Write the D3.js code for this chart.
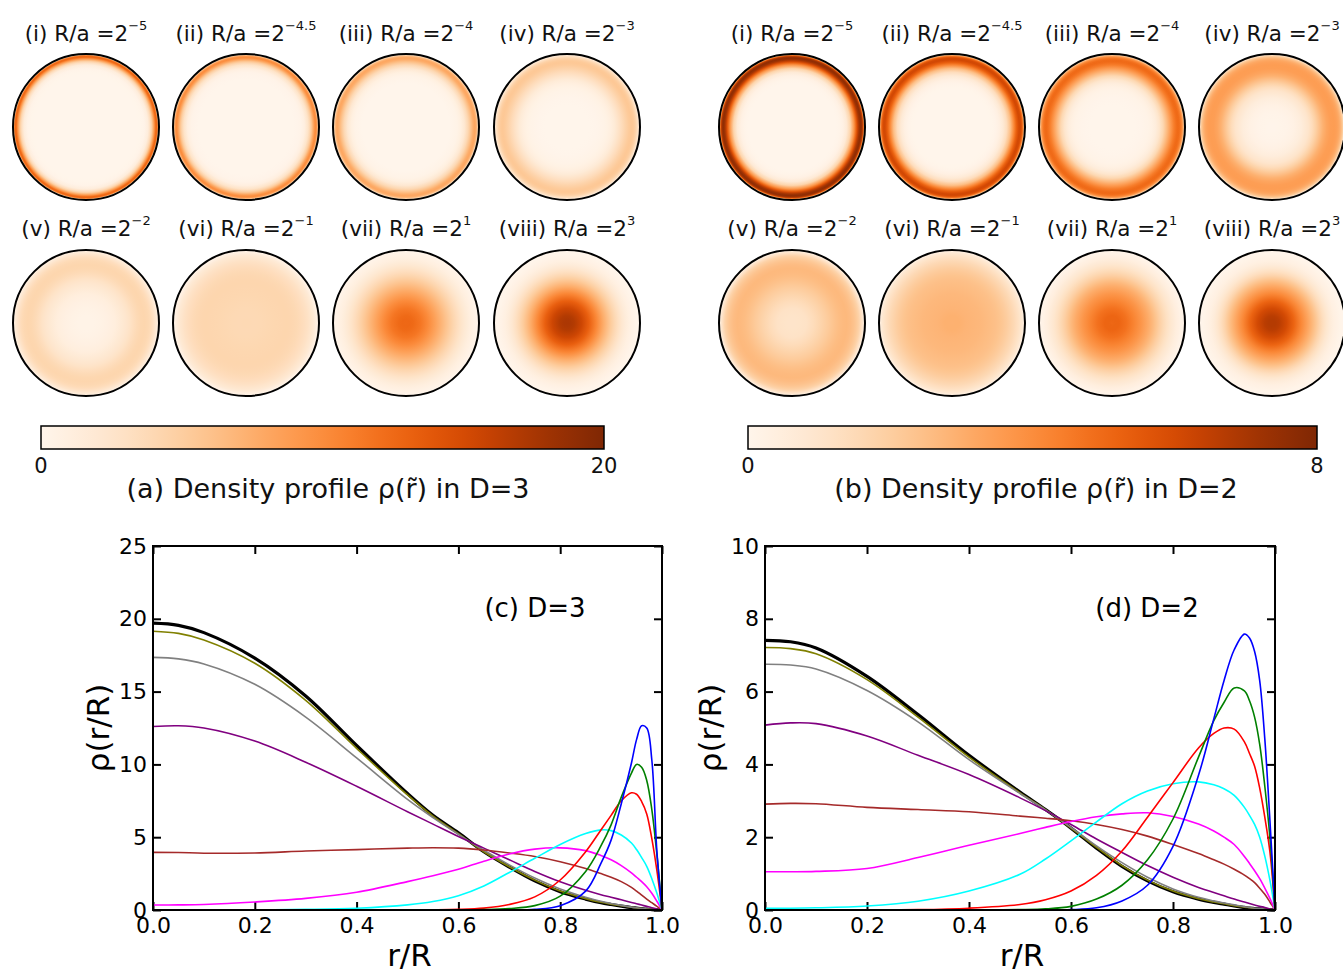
<!DOCTYPE html>
<html><head><meta charset="utf-8">
<script src="https://cdn.jsdelivr.net/npm/d3@7"></script>
<style>body{margin:0;background:#fff}svg{display:block}</style>
</head><body>
<svg id="chart" width="1343" height="972"></svg>
<script>
// ---------- DATA ----------
const rGrid = [0, 0.05, 0.1, 0.2, 0.3, 0.4, 0.5, 0.55, 0.6, 0.65, 0.7, 0.75, 0.8, 0.85, 0.88, 0.9, 0.92, 0.94, 0.95, 0.96, 0.97, 0.98, 0.99, 1.0];

const seriesNames  = ["black", "olive", "gray", "purple", "brown", "magenta", "cyan", "red", "green", "blue"];

// D = 3
const blackD3   = [19.7, 19.55, 19.05, 17.3, 14.7, 11.3, 8.0, 6.5, 5.3, 4.0, 2.95, 2.0, 1.26, 0.75, 0.5, 0.38, 0.27, 0.17, 0.13, 0.09, 0.06, 0.03, 0.01, 0];
const oliveD3   = [19.15, 19.0, 18.55, 16.95, 14.4, 11.1, 7.9, 6.45, 5.25, 4.0, 2.97, 2.05, 1.3, 0.78, 0.53, 0.4, 0.29, 0.19, 0.14, 0.1, 0.07, 0.04, 0.02, 0];
const grayD3    = [17.35, 17.25, 16.9, 15.5, 13.25, 10.45, 7.6, 6.35, 5.2, 4.1, 3.1, 2.2, 1.45, 0.88, 0.6, 0.45, 0.32, 0.2, 0.15, 0.11, 0.07, 0.04, 0.02, 0];
const purpleD3  = [12.6, 12.65, 12.5, 11.6, 10.15, 8.5, 6.75, 5.9, 5.05, 4.25, 3.45, 2.65, 1.94, 1.35, 1.05, 0.88, 0.7, 0.52, 0.43, 0.34, 0.25, 0.16, 0.08, 0];
const brownD3   = [3.96, 3.95, 3.9, 3.92, 4.05, 4.15, 4.25, 4.28, 4.25, 4.12, 3.92, 3.68, 3.32, 2.85, 2.5, 2.25, 1.95, 1.55, 1.3, 1.02, 0.75, 0.5, 0.25, 0];
const magentaD3 = [0.34, 0.35, 0.38, 0.55, 0.8, 1.22, 1.95, 2.35, 2.8, 3.35, 3.85, 4.18, 4.27, 4.08, 3.75, 3.45, 3.05, 2.55, 2.25, 1.95, 1.6, 1.15, 0.6, 0];
const cyanD3    = [0, 0, 0, 0.01, 0.04, 0.12, 0.35, 0.58, 0.98, 1.65, 2.58, 3.55, 4.5, 5.25, 5.5, 5.45, 5.15, 4.6, 4.15, 3.6, 3.0, 2.15, 1.15, 0];
const redD3     = [0, 0, 0, 0, 0, 0, 0, 0.01, 0.04, 0.13, 0.38, 0.9, 2.06, 4.0, 5.5, 6.5, 7.5, 8.05, 7.95, 7.45, 6.6, 4.9, 2.7, 0];
const greenD3   = [0, 0, 0, 0, 0, 0, 0, 0, 0.01, 0.03, 0.1, 0.3, 0.95, 2.65, 4.4, 5.85, 7.75, 9.4, 10.0, 9.8, 8.9, 6.9, 3.8, 0];
const blueD3    = [0, 0, 0, 0, 0, 0, 0, 0, 0, 0, 0.01, 0.05, 0.3, 1.3, 3.2, 4.8, 7.3, 10.1, 11.7, 12.65, 12.5, 10.3, 4.0, 0];

// D = 2
const blackD2   = [7.41, 7.37, 7.2, 6.42, 5.37, 4.25, 3.24, 2.76, 2.25, 1.7, 1.2, 0.8, 0.5, 0.3, 0.21, 0.16, 0.11, 0.07, 0.05, 0.04, 0.03, 0.02, 0.01, 0];
const oliveD2   = [7.21, 7.18, 7.04, 6.33, 5.3, 4.2, 3.22, 2.76, 2.25, 1.72, 1.22, 0.82, 0.52, 0.31, 0.22, 0.17, 0.12, 0.08, 0.06, 0.04, 0.03, 0.02, 0.01, 0];
const grayD2    = [6.75, 6.73, 6.62, 6.03, 5.17, 4.13, 3.2, 2.75, 2.27, 1.76, 1.3, 0.9, 0.58, 0.35, 0.25, 0.19, 0.14, 0.09, 0.07, 0.05, 0.04, 0.02, 0.01, 0];
const purpleD2  = [5.08, 5.14, 5.12, 4.78, 4.25, 3.72, 3.08, 2.73, 2.35, 1.95, 1.58, 1.22, 0.9, 0.62, 0.48, 0.39, 0.3, 0.22, 0.18, 0.14, 0.1, 0.07, 0.03, 0];
const brownD2   = [2.91, 2.93, 2.92, 2.82, 2.76, 2.7, 2.58, 2.52, 2.45, 2.35, 2.21, 2.03, 1.8, 1.55, 1.38, 1.26, 1.12, 0.96, 0.86, 0.75, 0.6, 0.43, 0.22, 0];
const magentaD2 = [1.05, 1.05, 1.06, 1.14, 1.44, 1.78, 2.1, 2.27, 2.43, 2.56, 2.64, 2.67, 2.57, 2.36, 2.17, 2.0, 1.8, 1.47, 1.28, 1.08, 0.86, 0.6, 0.32, 0];
const cyanD2    = [0.05, 0.05, 0.06, 0.11, 0.24, 0.52, 0.98, 1.4, 1.9, 2.42, 2.92, 3.27, 3.47, 3.52, 3.44, 3.33, 3.15, 2.82, 2.6, 2.35, 2.0, 1.48, 0.82, 0];
const redD2     = [0, 0, 0, 0, 0.01, 0.05, 0.15, 0.28, 0.52, 0.95, 1.62, 2.55, 3.5, 4.45, 4.85, 5.0, 4.97, 4.62, 4.3, 3.95, 3.35, 2.55, 1.6, 0];
const greenD2   = [0, 0, 0, 0, 0, 0, 0.01, 0.03, 0.1, 0.3, 0.68, 1.38, 2.5, 4.2, 5.2, 5.7, 6.1, 6.02, 5.75, 5.3, 4.55, 3.4, 2.0, 0];
const blueD2    = [0, 0, 0, 0, 0, 0, 0, 0, 0.01, 0.06, 0.25, 0.68, 1.75, 3.7, 5.25, 6.3, 7.15, 7.58, 7.47, 7.1, 6.3, 4.7, 2.47, 0];

// circle panels: label numerals, exponents of R/a, and which curve each circle shows
const circleNumerals = ["(i)", "(ii)", "(iii)", "(iv)", "(v)", "(vi)", "(vii)", "(viii)"];
const circleExponents = ["\u22125", "\u22124.5", "\u22124", "\u22123", "\u22122", "\u22121", "1", "3"];
const circleSeries = ["blue", "green", "red", "cyan", "magenta", "brown", "purple", "gray"];

const colorbarMaxD3 = 20;
const colorbarMaxD2 = 8;
const xTicks = [0, 0.2, 0.4, 0.6, 0.8, 1.0];
const yTicksD3 = [0, 5, 10, 15, 20, 25];
const yTicksD2 = [0, 2, 4, 6, 8, 10];

// ---------- STYLE / LAYOUT ----------
const lineColors = {black:"#000000", olive:"#808000", gray:"#808080", purple:"#800080", brown:"#a52a2a",
  magenta:"#ff00ff", cyan:"#00ffff", red:"#ff0000", green:"#008000", blue:"#0000ff"};
const font = "'DejaVu Sans', sans-serif";

const tableD3 = {black:blackD3, olive:oliveD3, gray:grayD3, purple:purpleD3, brown:brownD3,
  magenta:magentaD3, cyan:cyanD3, red:redD3, green:greenD3, blue:blueD3};
const tableD2 = {black:blackD2, olive:oliveD2, gray:grayD2, purple:purpleD2, brown:brownD2,
  magenta:magentaD2, cyan:cyanD2, red:redD2, green:greenD2, blue:blueD2};

const svg = d3.select("#chart");
const defs = svg.append("defs");

const panels = [
  {key:"a", table:tableD3, vmax:colorbarMaxD3, cxs:[86,246,406,567], bar:[41,604,426,449],
   title:"(a) Density profile \u03c1(r\u0303) in D=3", titleX:328},
  {key:"b", table:tableD2, vmax:colorbarMaxD2, cxs:[792,952,1112,1272], bar:[748,1317,426,449],
   title:"(b) Density profile \u03c1(r\u0303) in D=2", titleX:1036}
];
const rowCy = [127, 323];
const rowLabelY = [41, 236];
const circR = 73;

panels.forEach(p => {
  const color = d3.scaleSequential(d3.interpolateOranges).domain([0, p.vmax]);
  circleSeries.forEach((s, i) => {
    const gid = `grad-${p.key}-${i}`;
    const g = defs.append("radialGradient").attr("id", gid)
      .attr("cx", "50%").attr("cy", "50%").attr("r", "50%");
    g.selectAll("stop").data(rGrid.map((r, k) => [r, p.table[s][k]])).join("stop")
      .attr("offset", d => (d[0] * 100) + "%")
      .attr("stop-color", d => color(d[1]));
    const row = Math.floor(i / 4), col = i % 4;
    const cx = p.cxs[col], cy = rowCy[row];
    svg.append("circle").attr("cx", cx).attr("cy", cy).attr("r", circR)
      .attr("fill", `url(#${gid})`).attr("stroke", "#000").attr("stroke-width", 2);
    const t = svg.append("text").attr("x", cx).attr("y", rowLabelY[row])
      .attr("text-anchor", "middle").attr("font-family", font).attr("font-size", 21.5).attr("fill", "#111");
    t.append("tspan").text(`${circleNumerals[i]} R/a =2`);
    t.append("tspan").attr("dy", -11).attr("font-size", 13).text(circleExponents[i]);
  });

  // colorbar
  const lg = defs.append("linearGradient").attr("id", `cbar-${p.key}`);
  d3.range(0, 1.0001, 0.05).forEach(f => {
    lg.append("stop").attr("offset", (f * 100) + "%").attr("stop-color", color(f * p.vmax));
  });
  const [bx0, bx1, by0, by1] = p.bar;
  const bscale = d3.scaleLinear().domain([0, p.vmax]).range([bx0, bx1]);
  svg.append("rect").attr("x", bx0).attr("y", by0).attr("width", bx1 - bx0).attr("height", by1 - by0)
    .attr("fill", `url(#cbar-${p.key})`).attr("stroke", "#000").attr("stroke-width", 1.5);
  [0, p.vmax].forEach(v => {
    svg.append("text").attr("x", bscale(v)).attr("y", 473).attr("text-anchor", "middle")
      .attr("font-family", font).attr("font-size", 21).attr("fill", "#111").text(v);
  });
  svg.append("text").attr("x", p.titleX).attr("y", 498).attr("text-anchor", "middle")
    .attr("font-family", font).attr("font-size", 27).attr("fill", "#111").text(p.title);
});

// ---------- LINE PLOTS ----------
const plots = [
  {table:tableD3, x0:153, x1:662, y0:546, y1:910, ymax:25, yTicks:yTicksD3, label:"(c) D=3", labelX:535, ylabX:98},
  {table:tableD2, x0:765, x1:1275, y0:546, y1:910, ymax:10, yTicks:yTicksD2, label:"(d) D=2", labelX:1147, ylabX:710}
];

plots.forEach(p => {
  const x = d3.scaleLinear().domain([0, 1]).range([p.x0, p.x1]);
  const y = d3.scaleLinear().domain([0, p.ymax]).range([p.y1, p.y0]);
  const g = svg.append("g");

  const styleAxis = (sel) => {
    sel.select(".domain").remove();
    sel.selectAll(".tick line").attr("stroke", "#000").attr("stroke-width", 2);
    sel.selectAll("text").attr("font-family", font).attr("font-size", 22).attr("fill", "#000");
  };
  g.append("g").attr("transform", `translate(0,${p.y1})`)
    .call(d3.axisBottom(x).tickValues(xTicks).tickFormat(d3.format(".1f")).tickSizeInner(-8).tickSizeOuter(0).tickPadding(7))
    .call(styleAxis);
  g.append("g").attr("transform", `translate(0,${p.y0})`)
    .call(d3.axisTop(x).tickValues(xTicks).tickFormat("").tickSizeInner(-8).tickSizeOuter(0))
    .call(styleAxis);
  g.append("g").attr("transform", `translate(${p.x0},0)`)
    .call(d3.axisLeft(y).tickValues(p.yTicks).tickFormat(d3.format("d")).tickSizeInner(-8).tickSizeOuter(0).tickPadding(6))
    .call(styleAxis);
  g.append("g").attr("transform", `translate(${p.x1},0)`)
    .call(d3.axisRight(y).tickValues(p.yTicks).tickFormat("").tickSizeInner(-8).tickSizeOuter(0))
    .call(styleAxis);

  const line = d3.line().x(d => x(d[0])).y(d => y(Math.max(0, d[1]))).curve(d3.curveCatmullRom.alpha(0.5));
  seriesNames.forEach(s => {
    g.append("path").datum(rGrid.map((r, k) => [r, p.table[s][k]]))
      .attr("d", line).attr("fill", "none").attr("stroke", lineColors[s])
      .attr("stroke-width", s === "black" ? 3.2 : 1.6).attr("stroke-linejoin", "round");
  });

  g.append("rect").attr("x", p.x0).attr("y", p.y0).attr("width", p.x1 - p.x0).attr("height", p.y1 - p.y0)
    .attr("fill", "none").attr("stroke", "#000").attr("stroke-width", 2);

  g.append("text").attr("x", p.labelX).attr("y", 617).attr("text-anchor", "middle")
    .attr("font-family", font).attr("font-size", 26).text(p.label);
  g.append("text").attr("transform", `translate(${p.ylabX + 11},${(p.y0 + p.y1) / 2}) rotate(-90)`)
    .attr("text-anchor", "middle").attr("font-family", font).attr("font-size", 31).text("\u03c1(r/R)");
  g.append("text").attr("x", (p.x0 + p.x1) / 2 + 2).attr("y", 966).attr("text-anchor", "middle")
    .attr("font-family", font).attr("font-size", 31).text("r/R");
});
</script>
</body></html>
